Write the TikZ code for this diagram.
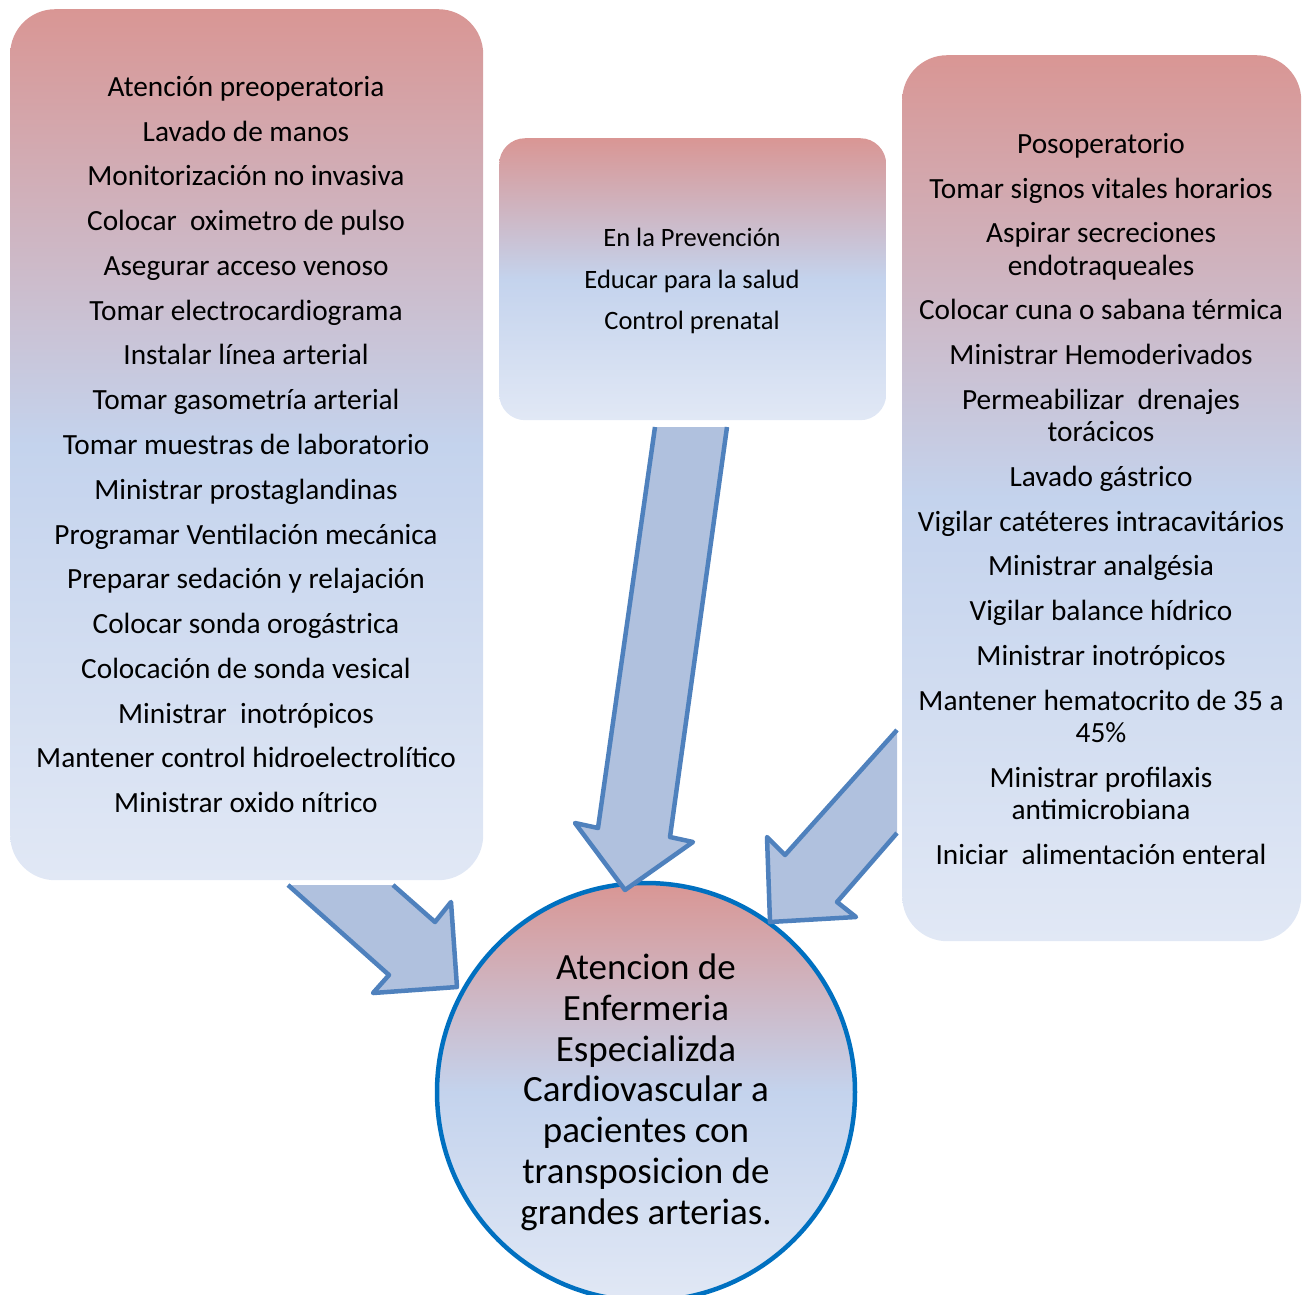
\documentclass[tikz,border=0pt]{standalone}
\usepackage{fontspec}
\setmainfont{Carlito}
\definecolor{pinktop}{RGB}{217,150,148}
\definecolor{bluemid}{RGB}{196,211,237}
\definecolor{bluebot}{RGB}{225,232,245}
\definecolor{arrowfillc}{RGB}{176,193,222}
\definecolor{arrowlinec}{RGB}{79,129,189}
\definecolor{ringblue}{RGB}{0,112,192}
\tikzset{
  panel/.style={shading=axis, top color=pinktop, bottom color=bluebot, middle color=bluemid,
    rectangle, inner sep=0pt, anchor=north west},
  hubstyle/.style={circle, draw=ringblue, line width=4.5pt, inner sep=0pt,
    shading=axis, top color=pinktop, bottom color=bluebot, middle color=bluemid},
  blockfill/.style={fill=arrowfillc},
  blockline/.style={draw=arrowlinec, line width=4.5pt, line join=round},
  sidetxt/.style={anchor=mid, inner sep=0pt, yshift=-8pt, font=\fontsize{29.3}{32}\selectfont},
  midtxt/.style={anchor=mid, inner sep=0pt, yshift=-7pt, font=\fontsize{26.5}{30}\selectfont},
  hubtxt/.style={anchor=mid, inner sep=0pt, yshift=-10pt, font=\fontsize{37}{41}\selectfont},
}
\begin{document}
\begin{tikzpicture}[x=1pt,y=-1pt]
\useasboundingbox (0,0) rectangle (1307,1294);
\clip (0,0) rectangle (1307,1294);

% central circle
\node[hubstyle, minimum size=418pt] (hub) at (646,1092) {};

% block arrows
\fill[blockfill] (288,885) -- (389,975) -- (373,993) -- (457,987) -- (451,902) -- (435,922) -- (393,885) -- cycle;
\draw[blockline] (288,885) -- (389,975) -- (373,993) -- (457,987) -- (451,902) -- (435,922) -- (393,885);

\fill[blockfill] (655,427) -- (598,828) -- (575,823) -- (625,890) -- (693,842) -- (670,837) -- (727,427) -- cycle;
\draw[blockline] (655,427) -- (598,828) -- (575,823) -- (625,890) -- (693,842) -- (670,837) -- (727,427);

\fill[blockfill] (897,730) -- (785,855) -- (767,837) -- (770,922) -- (856,917) -- (837,902) -- (897,833) -- cycle;
\draw[blockline] (897,730) -- (785,855) -- (767,837) -- (770,922) -- (856,917) -- (837,902) -- (897,833);

% panels
\node[panel, rounded corners=45pt, minimum width=473pt, minimum height=871pt] (leftbox) at (10,9) {};
\node[panel, rounded corners=26pt, minimum width=387pt, minimum height=282pt] (midbox) at (499,138) {};
\node[panel, rounded corners=45pt, minimum width=399pt, minimum height=886pt] (rightbox) at (902,55) {};

% left texts
\foreach \t/\y [count=\i] in {
  Atención preoperatoria/86,
  Lavado de manos/131,
  Monitorización no invasiva/175,
  Colocar~ oximetro de pulso/220,
  Asegurar acceso venoso/265,
  Tomar electrocardiograma/310,
  Instalar línea arterial/354,
  Tomar gasometría arterial/399,
  Tomar muestras de laboratorio/444,
  Ministrar prostaglandinas/489,
  Programar Ventilación mecánica/534,
  Preparar sedación y relajación/578,
  Colocar sonda orogástrica/623,
  Colocación de sonda vesical/668,
  Ministrar~ inotrópicos/713,
  Mantener control hidroelectrolítico/757,
  Ministrar oxido nítrico/802}
  \node[sidetxt] (L\i) at (246,\y) {\t};

% middle texts
\foreach \t/\y [count=\i] in {
  En la Prevención/237,
  Educar para la salud/279,
  Control prenatal/320}
  \node[midtxt] (M\i) at (692,\y) {\t};

% right texts
\foreach \t/\y [count=\i] in {
  Posoperatorio/143,
  Tomar signos vitales horarios/188,
  Aspirar secreciones/232,
  endotraqueales/265,
  Colocar cuna o sabana térmica/309,
  Ministrar Hemoderivados/354,
  Permeabilizar~ drenajes/399,
  torácicos/431,
  Lavado gástrico/476,
  Vigilar catéteres intracavitários/521,
  Ministrar analgésia/565,
  Vigilar balance hídrico/610,
  Ministrar inotrópicos/655,
  Mantener hematocrito de 35 a/700,
  45\%/732,
  Ministrar profilaxis/777,
  antimicrobiana/809,
  Iniciar~ alimentación enteral/854}
  \node[sidetxt] (R\i) at (1101,\y) {\t};

% circle texts
\foreach \t/\y [count=\i] in {
  Atencion de/967,
  Enfermeria/1008,
  Especializda/1049,
  Cardiovascular a/1089,
  pacientes con/1130,
  transposicion de/1171,
  grandes arterias./1212}
  \node[hubtxt] (H\i) at (646,\y) {\t};
\end{tikzpicture}
\end{document}
